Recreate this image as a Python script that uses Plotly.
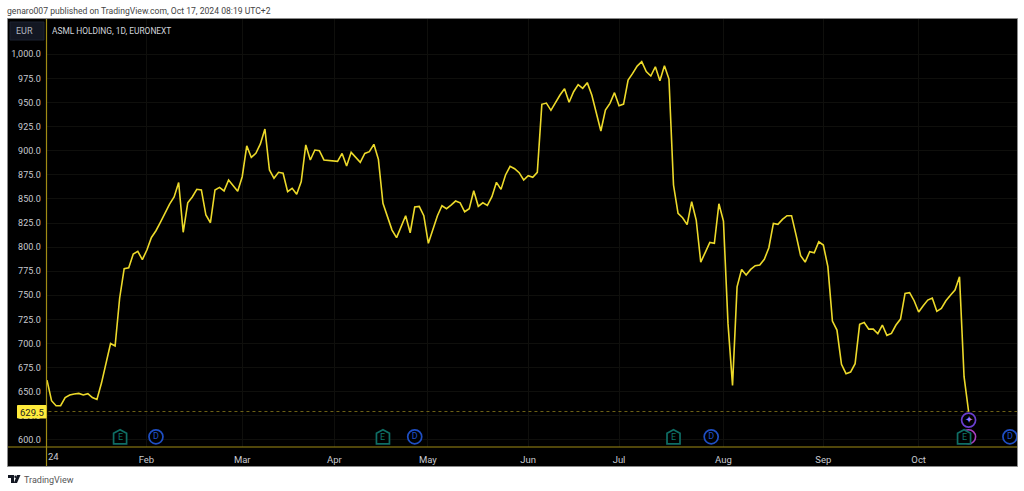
import plotly.graph_objects as go

W, H = 1024, 491
prices = [662, 640.7, 635.5, 635.5, 644, 646.6, 647.6, 648.3, 646.6, 648, 644, 642, 659, 678, 700, 697.4,
    747, 777.6, 778.6, 792.8, 795.6, 787, 797, 810, 817, 826, 836, 844.7, 852, 867, 815.4, 846, 852, 860,
    859.3, 833.3, 825.3, 859.3, 862, 858.3, 869.6, 863.7, 858, 873, 905, 893, 897.3, 907, 922.5, 880,
    871.4, 877.6, 876.6, 857.5, 861, 854.8, 868, 906, 890.4, 900.7, 900, 890.4, 889.7, 889.7, 889,
    897.2, 884.1, 898.3, 893.1, 887.9, 897.2, 899, 906.6, 891, 845.4, 831.5, 817.7, 809.8, 821.2, 832.6,
    814.9, 841.6, 842.3, 832.6, 803.9, 817.7, 832.6, 842.9, 839.9, 843.6, 847.8, 846, 836.7, 839.9, 858.5,
    842.3, 846, 843.3, 852.3, 867.2, 859.9, 874.8, 883.8, 881.3, 877.2, 869.6, 874.1, 872.4, 877.5, 948.1,
    949.4, 941.9, 950.2, 957.8, 964.3, 950.2, 961.2, 968.5, 964.7, 970.6, 957.8, 940.5, 920.4, 942.2,
    949.1, 960.2, 946.7, 948.4, 973.3, 980.2, 987.8, 992.3, 982, 977.5, 987.1, 972.6, 988.2, 974.3, 864.4,
    835, 830.5, 823.3, 847.1, 828.1, 784.5, 794.6, 804.9, 803.9, 845, 827.1, 720.9, 656.6, 758.9, 776.9,
    771, 776.9, 780.7, 781.4, 787.3, 799.4, 824.6, 823.6, 828.8, 832.6, 832.6, 812.5, 791.1, 784.5, 795.3,
    794.2, 805.6, 802.2, 779.7, 723.3, 714, 678.4, 668.7, 670.4, 679.1, 719.9, 721.9, 715, 715, 710.2,
    719.2, 708.5, 710.5, 719.2, 725.4, 752, 752.7, 744.4, 732.7, 739.2, 745.1, 747.2, 733.4, 736.5, 744.4,
    750, 755.5, 769.3, 665.6, 629.5]
year_label = "24"
month_labels = ["Feb", "Mar", "Apr", "May", "Jun", "Jul", "Aug", "Sep", "Oct"]
month_index = [21.9, 43, 63.3, 83.9, 106, 126, 149, 171, 192]
price_ticks = list(range(600, 1001, 25))
last_price = 629.5
earnings_x = [16.1, 74, 138, 202]
dividend_x = [24, 81, 146.3, 212.1]
event_row = 603.3
split_row = 620.6

YEL = "#ecd92a"
AX = "#a08c14"
GRID = "#0f0f0c"
FONT = "Roboto, 'Noto Sans', sans-serif"

def px(x):
    return x / W

def py(y):
    return 1 - y / H

fig = go.Figure()
xs = list(range(len(prices)))
fig.add_trace(go.Scatter(x=[-1, 216], y=[last_price, last_price], mode="lines",
                         line=dict(color="#6e6216", width=1, dash="dot"), hoverinfo="skip"))
fig.add_trace(go.Scatter(x=xs, y=prices, mode="lines", line=dict(color=YEL, width=1.6)))
fig.add_trace(go.Scatter(x=[xs[-1]], y=[event_row], mode="markers",
                         marker=dict(symbol="circle", size=14, color="#000", line=dict(color="#a83fc0", width=1.6))))
fig.add_trace(go.Scatter(x=dividend_x, y=[event_row] * len(dividend_x), mode="markers+text", text=["D"] * 4,
                         textfont=dict(color="#1f4fc4", size=9, family=FONT), textposition="middle center",
                         cliponaxis=True,
                         marker=dict(symbol="circle", size=14, color="#000", line=dict(color="#1f4fc4", width=1.7))))
fig.add_trace(go.Scatter(x=[xs[-1]], y=[split_row], mode="markers+text", text=["✦"],
                         textfont=dict(color="#9a78ff", size=10), textposition="middle center",
                         marker=dict(symbol="circle", size=14, color="#000", line=dict(color="#6a3fd0", width=1.7))))

shapes = [
    dict(type="rect", xref="paper", yref="paper", layer="below", x0=px(7.5), x1=px(1017.5), y0=py(466.5), y1=py(18.5),
         fillcolor="#000", line=dict(color="#8a8a8a", width=1)),
    dict(type="line", xref="paper", yref="paper", x0=px(46.5), x1=px(46.5), y0=py(466), y1=py(19),
         line=dict(color=AX, width=1.2)),
    dict(type="line", xref="paper", yref="paper", x0=px(8), x1=px(1017), y0=py(447), y1=py(447),
         line=dict(color=AX, width=1)),
    dict(type="rect", xref="paper", yref="paper", x0=px(10), x1=px(44), y0=py(40), y1=py(22),
         fillcolor="#131722", line=dict(color="#1d2330", width=1)),
    dict(type="rect", xref="paper", yref="paper", x0=px(17.5), x1=px(46), y0=py(418), y1=py(405.5),
         fillcolor="#ffeb3b", line=dict(color="#ffeb3b", width=1)),
    dict(type="path", xref="paper", yref="paper", fillcolor="#131722", line=dict(width=0),
         path=f"M {px(8)} {py(475)} L {px(14)} {py(475)} L {px(14)} {py(483)} L {px(11)} {py(483)} L {px(11)} {py(478)} L {px(8)} {py(478)} Z"),
    dict(type="circle", xref="paper", yref="paper", fillcolor="#131722", line=dict(width=0),
         x0=px(14.3), x1=px(16.5), y0=py(478), y1=py(475.6)),
    dict(type="path", xref="paper", yref="paper", fillcolor="#131722", line=dict(width=0),
         path=f"M {px(17)} {py(475)} L {px(20.5)} {py(475)} L {px(17)} {py(483)} L {px(13.8)} {py(483)} Z"),
]
for e in earnings_x:
    shapes.append(dict(type="path", xref="x", yref="y", xsizemode="pixel", ysizemode="pixel", xanchor=e,
                       yanchor=event_row, fillcolor="#000", line=dict(color="#0f6e65", width=1.7),
                       path="M -6.5 -7 L 6.5 -7 L 6.5 3.5 L 0 7 L -6.5 3.5 Z"))

annotations = [
    dict(text="genaro007 published on TradingView.com, Oct 17, 2024 08:19 UTC+2", x=px(7), y=py(11), xref="paper",
         yref="paper", xanchor="left", yanchor="middle", showarrow=False, borderpad=0, borderwidth=0,
         font=dict(size=8.6, color="#444", family=FONT)),
    dict(text="ASML HOLDING, 1D, EURONEXT", x=px(52), y=py(30.5), xref="paper", yref="paper", xanchor="left",
         yanchor="middle", showarrow=False, borderpad=0, borderwidth=0, font=dict(size=8.4, color="#d1d4dc", family=FONT)),
    dict(text="EUR", x=px(24), y=py(30.5), xref="paper", yref="paper", xanchor="center", yanchor="middle",
         showarrow=False, font=dict(size=9, color="#b2b5be", family=FONT)),
    dict(text=f"{last_price:.1f}", x=px(31.5), y=py(412), xref="paper", yref="paper", xanchor="center",
         yanchor="middle", showarrow=False, font=dict(size=9.5, color="#222", family=FONT)),
    dict(text="TradingView", x=px(24), y=py(479.5), xref="paper", yref="paper", xanchor="left", yanchor="middle",
         showarrow=False, borderpad=0, borderwidth=0, font=dict(size=9, color="#555", family=FONT)),
    dict(text=year_label, x=px(47.5), y=py(456.5), xref="paper", yref="paper", xanchor="left", yanchor="middle",
         showarrow=False, borderpad=0, borderwidth=0, font=dict(size=9.5, color="#c8cad0", family=FONT)),
]
for e in earnings_x:
    annotations.append(dict(text="E", x=e, y=event_row, xref="x", yref="y", xanchor="center", yanchor="middle",
                            showarrow=False, font=dict(size=9, color="#11756b", family=FONT)))

fig.update_layout(
    width=W, height=H, autosize=False, showlegend=False, paper_bgcolor="#fff", plot_bgcolor="#000",
    margin=dict(l=0, r=0, t=0, b=0, pad=0, autoexpand=False), shapes=shapes, annotations=annotations,
    xaxis=dict(domain=[px(46.5), px(1017)], range=[-0.11, 213.66], tickmode="array", tickvals=month_index,
               ticktext=month_labels, ticks="outside", ticklen=4, tickcolor="rgba(0,0,0,0)", showline=False,
               zeroline=False, showgrid=True, gridcolor=GRID, gridwidth=1,
               tickfont=dict(size=9.5, color="#c8cad0", family=FONT)),
    yaxis=dict(domain=[py(447), py(19)], range=[592.7, 1036.6], tickmode="array", tickvals=price_ticks,
               tickformat=",.1f", ticks="outside", ticklen=3, tickcolor="rgba(0,0,0,0)", showline=False,
               zeroline=False, showgrid=True, gridcolor=GRID, gridwidth=1,
               tickfont=dict(size=9, color="#c8cad0", family=FONT)),
)
fig.write_html("out.html", config={"displayModeBar": False},
               post_script="document.body.style.margin='0';document.body.style.overflow='hidden';")
